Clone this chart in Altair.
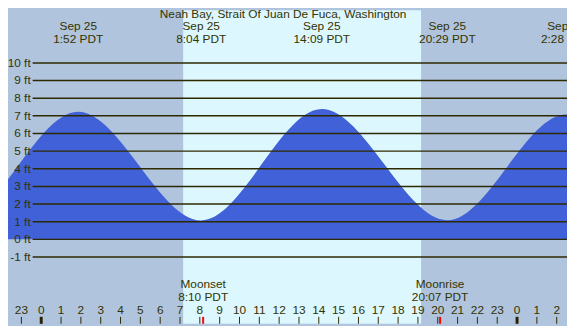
import altair as alt
import pandas as pd

# Tide extremes: hours from Sep 25 00:00 PDT, height in feet
tide_hours = [-10.6, -4.4, 1.867, 8.067, 14.15, 20.483, 26.467, 32.8]
tide_feet = [7.1, 0.82, 7.23, 1.07, 7.38, 1.08, 7.08, 0.9]

# Extreme labels shown along the top
label_hours = [1.867, 8.067, 14.15, 20.483, 26.467]
label_dates = ["Sep 25", "Sep 25", "Sep 25", "Sep 25", "Sep 26"]
label_times = ["1:52 PDT", "8:04 PDT", "14:09 PDT", "20:29 PDT", "2:28 PDT"]

# Daylight window (hours)
day_start = [7.16]
day_end = [19.16]

# Grid lines (feet)
grid_feet = list(range(-1, 11))
grid_labels = [f"{f} ft" for f in grid_feet]

# Hour ticks
hour_ticks = list(range(-1, 27))
hour_labels = [str(h % 24) for h in hour_ticks]
midnights = [0, 24]

# Moon events
moon_hours = [8.167, 20.117]
moon_events = ["Moonset", "Moonrise"]
moon_times = ["8:10 PDT", "20:07 PDT"]

TITLE = "Neah Bay, Strait Of Juan De Fuca, Washington"

W, H = 567, 318
FONT = "Liberation Sans"
TXT = "#333300"
NIGHT = "#b0c4de"
DAY = "#ddf7ff"
WATER = "#4161d8"
GRID = "#2e2a00"

xs = alt.Scale(domain=[-1.676, 26.519], nice=False, zero=False)
ys = alt.Scale(domain=[-4.782, 12.983], nice=False, zero=False)

tide_df = pd.DataFrame({"h": tide_hours, "ft": tide_feet})
lab_df = pd.DataFrame({"h": label_hours, "d": label_dates, "t": label_times})
day_df = pd.DataFrame({"a": day_start, "b": day_end})
grid_df = pd.DataFrame({"ft": grid_feet, "lab": grid_labels})
hour_df = pd.DataFrame({"h": hour_ticks, "lab": hour_labels})
mid_df = pd.DataFrame({"h": midnights})
moon_df = pd.DataFrame({"h": moon_hours, "ev": moon_events, "t": moon_times})
title_df = pd.DataFrame({"t": [TITLE]})

day = alt.Chart(day_df).mark_rect(color=DAY).encode(
    x=alt.X("a:Q", scale=xs, axis=None),
    x2="b:Q",
    y=alt.value(0),
    y2=alt.value("height"),
)

area = alt.Chart(tide_df).mark_area(color=WATER, interpolate="monotone", clip=True).encode(
    x=alt.X("h:Q", scale=xs, axis=None),
    y=alt.Y("ft:Q", scale=ys, axis=None),
    y2=alt.value("height"),
)

grid = alt.Chart(grid_df).mark_rule(color=GRID, strokeWidth=1.5).encode(
    y=alt.Y("ft:Q", scale=ys, axis=None),
    x=alt.value(25),
    x2=alt.value("width"),
)

grid_text = alt.Chart(grid_df).mark_text(
    align="right", baseline="middle", font=FONT, fontSize=12, color=TXT
).encode(
    y=alt.Y("ft:Q", scale=ys, axis=None),
    x=alt.value(23),
    text="lab:N",
)

ticks = alt.Chart(hour_df).mark_rule(color=GRID, strokeWidth=1).encode(
    x=alt.X("h:Q", scale=xs, axis=None),
    y=alt.value(311),
    y2=alt.value("height"),
)

mid_ticks = alt.Chart(mid_df).mark_rule(color="#2a2200", strokeWidth=3).encode(
    x=alt.X("h:Q", scale=xs, axis=None),
    y=alt.value(311),
    y2=alt.value("height"),
)

moon_ticks = alt.Chart(moon_df).mark_rule(color="#ff0000", strokeWidth=2).encode(
    x=alt.X("h:Q", scale=xs, axis=None),
    y=alt.value(311),
    y2=alt.value("height"),
)

hour_text = alt.Chart(hour_df).mark_text(
    align="center", baseline="middle", font=FONT, fontSize=12, color=TXT
).encode(
    x=alt.X("h:Q", scale=xs, axis=None),
    y=alt.value(304),
    text="lab:N",
)

moon_ev = alt.Chart(moon_df).mark_text(
    align="center", baseline="middle", font=FONT, fontSize=12, color=TXT
).encode(
    x=alt.X("h:Q", scale=xs, axis=None), y=alt.value(277.5), text="ev:N"
)
moon_t = alt.Chart(moon_df).mark_text(
    align="center", baseline="middle", font=FONT, fontSize=12, color=TXT
).encode(
    x=alt.X("h:Q", scale=xs, axis=None), y=alt.value(290.5), text="t:N"
)

top_d = alt.Chart(lab_df).mark_text(
    align="center", baseline="middle", font=FONT, fontSize=12, color=TXT
).encode(
    x=alt.X("h:Q", scale=xs, axis=None), y=alt.value(16.5), text="d:N"
)
top_t = alt.Chart(lab_df).mark_text(
    align="center", baseline="middle", font=FONT, fontSize=12, color=TXT
).encode(
    x=alt.X("h:Q", scale=xs, axis=None), y=alt.value(29.5), text="t:N"
)

title = alt.Chart(title_df).mark_text(
    align="center", baseline="top", font=FONT, fontSize=12, color=TXT
).encode(
    x=alt.value(279), y=alt.value(-1), text="t:N"
)

chart = alt.layer(
    day, area, grid, grid_text, ticks, mid_ticks, moon_ticks,
    hour_text, moon_ev, moon_t, top_d, top_t, title
).properties(
    width=W, height=H, background=NIGHT, padding=0,
    autosize=alt.AutoSizeParams(type="none"),
).configure_view(stroke=None, fill=NIGHT)

chart.save("out.html", embed_options={"renderer": "svg", "actions": False})
